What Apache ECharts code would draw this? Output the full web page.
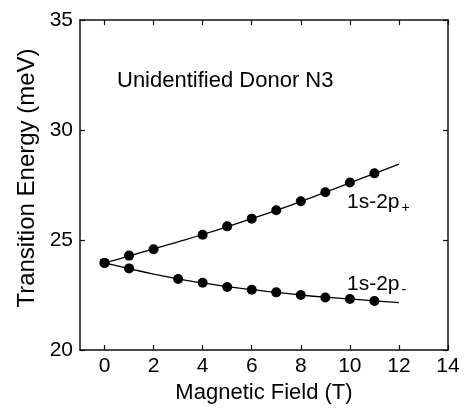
<!DOCTYPE html>
<html>
<head>
<meta charset="utf-8">
<script src="https://cdn.jsdelivr.net/npm/echarts@6/dist/echarts.min.js"></script>
<style>
  html, body { margin: 0; padding: 0; background: #fff; }
  #main { width: 464px; height: 409px; }
</style>
</head>
<body>
<div id="main"></div>
<script>
var font = 'Liberation Sans, Arial, sans-serif';

// measured points (field in T, energy in meV)
var plusField = [0, 1, 2, 4, 5, 6, 7, 8, 9, 10, 11];
var plusEnergy = [23.96, 24.29, 24.58, 25.24, 25.62, 25.97, 26.35, 26.76, 27.17, 27.61, 28.03];
var minusField = [0, 1, 3, 4, 5, 6, 7, 8, 9, 10, 11];
var minusEnergy = [23.96, 23.71, 23.23, 23.06, 22.86, 22.74, 22.62, 22.5, 22.39, 22.32, 22.23];

// fitted curves
var fitField = [0, 1, 2, 3, 4, 5, 6, 7, 8, 9, 10, 11, 12];
var fitPlus = [23.96, 24.27, 24.6, 24.92, 25.25, 25.6, 25.97, 26.35, 26.75, 27.17, 27.6, 28.02, 28.45];
var fitMinus = [23.96, 23.7, 23.45, 23.23, 23.05, 22.88, 22.74, 22.62, 22.5, 22.4, 22.32, 22.23, 22.15];

var xTicks = [0, 2, 4, 6, 8, 10, 12, 14];
var yTicks = [20, 25, 30, 35];

function pairs(xs, ys) {
    return xs.map(function (x, i) { return [x, ys[i]]; });
}

var chart = echarts.init(document.getElementById('main'));

var axisLine = { show: true, onZero: false, lineStyle: { color: '#111', width: 1.5 } };
var tick = { show: true, inside: true, length: 5, lineStyle: { color: '#111', width: 1.2 } };
var sub = { font: '14px ' + font, fill: '#000', padding: [12, 0, 0, 2] };

var option = {
    backgroundColor: '#fff',
    animation: false,
    grid: { left: 80, right: 16, top: 20, bottom: 59 },
    xAxis: [{
        type: 'value', min: -1, max: 14,
        name: 'Magnetic Field (T)', nameLocation: 'middle', nameGap: 26,
        nameTextStyle: { fontFamily: font, fontSize: 22, color: '#000' },
        axisLine: axisLine,
        axisTick: Object.assign({ customValues: xTicks }, tick),
        axisLabel: { customValues: xTicks, fontFamily: font, fontSize: 21, color: '#000', margin: 6 },
        splitLine: { show: false }
    }, {
        type: 'value', min: -1, max: 14, position: 'top',
        axisLine: axisLine,
        axisTick: Object.assign({ customValues: xTicks }, tick),
        axisLabel: { show: false },
        splitLine: { show: false }
    }],
    yAxis: [{
        type: 'value', min: 20, max: 35, interval: 5,
        axisLine: axisLine,
        axisTick: Object.assign({ customValues: yTicks }, tick),
        axisLabel: { customValues: yTicks, fontFamily: font, fontSize: 21, color: '#000', margin: 7 },
        splitLine: { show: false }
    }, {
        type: 'value', min: 20, max: 35, interval: 5, position: 'right',
        axisLine: axisLine,
        axisTick: Object.assign({ customValues: yTicks }, tick),
        axisLabel: { show: false },
        splitLine: { show: false }
    }],
    graphic: [
        { type: 'text', x: 27, y: 178, rotation: Math.PI / 2, style: {
            text: 'Transition Energy (meV)', font: '24px ' + font, fill: '#000',
            align: 'center', verticalAlign: 'middle' } },
        { type: 'text', left: 117, top: 70, style: { text: 'Unidentified Donor N3', font: '22px ' + font, fill: '#000' } },
        { type: 'text', left: 347, top: 192, style: {
            text: '{a|1s-2p}{s|+}', rich: { a: { font: '21px ' + font, fill: '#000' }, s: sub } } },
        { type: 'text', left: 347, top: 274, style: {
            text: '{a|1s-2p}{s|-}', rich: { a: { font: '21px ' + font, fill: '#000' }, s: sub } } }
    ],
    series: [{
        type: 'line', data: pairs(fitField, fitPlus), smooth: true,
        showSymbol: false, lineStyle: { color: '#000', width: 1.3 }
    }, {
        type: 'line', data: pairs(fitField, fitMinus), smooth: true,
        showSymbol: false, lineStyle: { color: '#000', width: 1.3 }
    }, {
        type: 'scatter', data: pairs(plusField, plusEnergy),
        symbolSize: 10, itemStyle: { color: '#000', opacity: 1 }
    }, {
        type: 'scatter', data: pairs(minusField, minusEnergy),
        symbolSize: 10, itemStyle: { color: '#000', opacity: 1 }
    }]
};
chart.setOption(option);
</script>
</body>
</html>
